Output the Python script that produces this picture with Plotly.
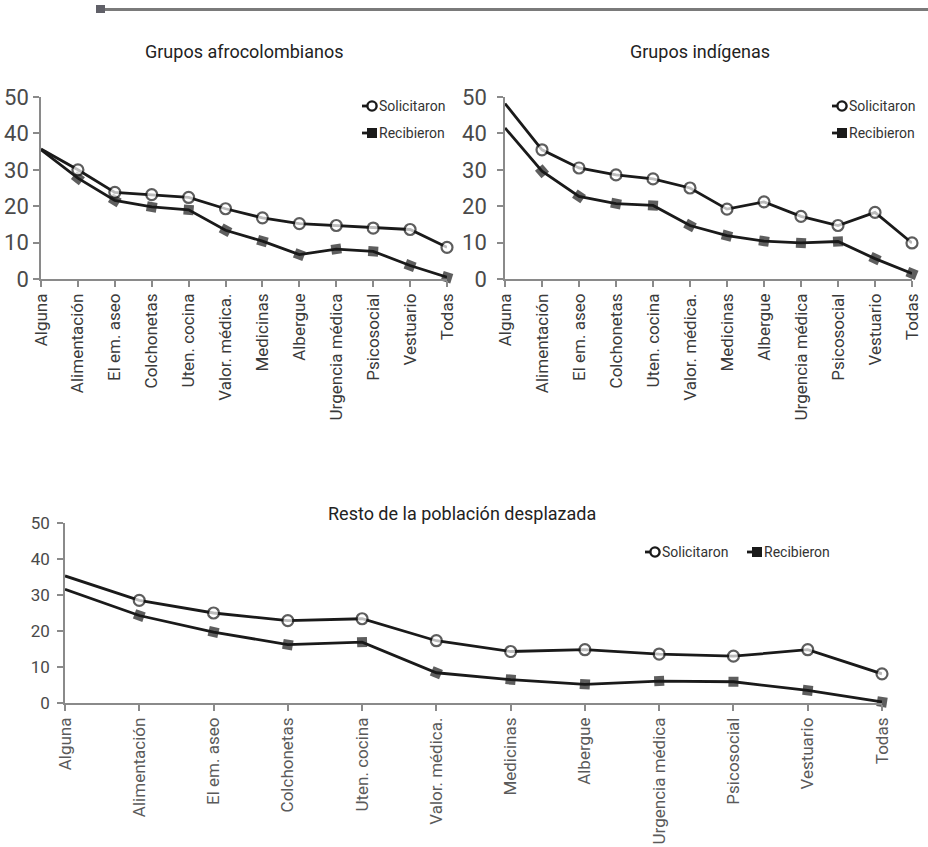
import math
import plotly.graph_objects as go

# Categorías de ayuda humanitaria
categorias = ["Alguna", "Alimentación", "El em. aseo", "Colchonetas", "Uten. cocina",
              "Valor. médica.", "Medicinas", "Albergue", "Urgencia médica",
              "Psicosocial", "Vestuario", "Todas"]

# Grupos afrocolombianos (%)
afro_solicitaron = [35.7, 30.0, 23.8, 23.2, 22.4, 19.3, 16.8, 15.2, 14.7, 14.0, 13.6, 8.7]
afro_recibieron = [35.5, 27.7, 21.6, 19.8, 19.0, 13.4, 10.4, 6.7, 8.2, 7.6, 3.7, 0.5]

# Grupos indígenas (%)
ind_solicitaron = [48.2, 35.5, 30.5, 28.6, 27.5, 25.0, 19.2, 21.2, 17.2, 14.7, 18.3, 9.9]
ind_recibieron = [41.5, 29.6, 22.7, 20.7, 20.2, 14.7, 11.9, 10.4, 9.9, 10.3, 5.6, 1.5]

# Resto de la población desplazada (%)
resto_solicitaron = [35.3, 28.5, 25.0, 22.9, 23.4, 17.3, 14.3, 14.8, 13.6, 13.0, 14.8, 8.1]
resto_recibieron = [31.6, 24.3, 19.7, 16.2, 16.9, 8.4, 6.5, 5.2, 6.1, 5.9, 3.5, 0.3]

y_ticks = [0, 10, 20, 30, 40, 50]

W, H = 928, 847
FONT = "Roboto, Liberation Sans, sans-serif"
AXIS_GRAY = "#8a8a8a"
INK = "#1a1a1a"


def px(x):
    return x / W


def py(y):
    return 1 - y / H


# Plot areas in pixels: (left, right, bottom, top)
TOP_LEFT = (41, 447, 279, 97)
TOP_RIGHT = (505, 912, 279, 97)
BOTTOM = (65, 882, 703, 523)


def square_angles(values, box):
    """Rotate each square marker to follow the incoming line segment."""
    left, right, bottom, top = box
    step_x = (right - left) / (len(values) - 1)
    unit_y = (bottom - top) / 50.0
    angles = [0]
    for a, b in zip(values[:-1], values[1:]):
        angles.append(math.degrees(math.atan2((a - b) * unit_y, step_x)))
    return angles


fig = go.Figure()

panels = [
    ("x", "y", afro_solicitaron, afro_recibieron, TOP_LEFT),
    ("x2", "y2", ind_solicitaron, ind_recibieron, TOP_RIGHT),
    ("x3", "y3", resto_solicitaron, resto_recibieron, BOTTOM),
]

for xa, ya, sol, rec, box in panels:
    # Primer punto ("Alguna") sin marcador
    sol_sizes = [0] + [11] * (len(sol) - 1)
    rec_sizes = [0] + [10] * (len(rec) - 1)
    fig.add_trace(go.Scatter(
        x=categorias, y=rec, xaxis=xa, yaxis=ya, mode="lines+markers",
        line=dict(color=INK, width=2.8),
        marker=dict(symbol="square", size=rec_sizes, color=INK,
                    angle=square_angles(rec, box), line=dict(width=0)),
        cliponaxis=False, showlegend=False, name="Recibieron"))
    fig.add_trace(go.Scatter(
        x=categorias, y=sol, xaxis=xa, yaxis=ya, mode="lines+markers",
        line=dict(color=INK, width=2.8),
        marker=dict(symbol="circle", size=sol_sizes, color="white",
                    line=dict(color=INK, width=2.2)),
        cliponaxis=False, showlegend=False, name="Solicitaron"))


def xaxis_cfg(box, anchor, color):
    return dict(domain=[px(box[0]), px(box[1])], anchor=anchor, type="category",
                categoryorder="array", categoryarray=categorias,
                range=[0, len(categorias) - 1], showline=True,
                linecolor=AXIS_GRAY, linewidth=1.5, ticks="outside",
                ticklen=6, tickwidth=1.5, tickcolor=AXIS_GRAY,
                tickangle=-90, showgrid=False, zeroline=False,
                automargin=False,
                tickfont=dict(family=FONT, size=17, color=color))


def yaxis_cfg(box, anchor, size, standoff):
    return dict(domain=[py(box[2]), py(box[3])], anchor=anchor, range=[0, 50],
                tickvals=y_ticks, showline=True, linecolor=AXIS_GRAY,
                linewidth=1.5, ticks="outside", ticklen=6, tickwidth=1.5,
                tickcolor=AXIS_GRAY, showgrid=False, zeroline=False,
                ticklabelstandoff=standoff, automargin=False,
                tickfont=dict(family=FONT, size=size, color="#4a4a4a"))


fig.update_layout(
    width=W, height=H, margin=dict(l=0, r=0, t=0, b=0),
    paper_bgcolor="white", plot_bgcolor="white", showlegend=False,
    xaxis=xaxis_cfg(TOP_LEFT, "y", "#3a3a3a"),
    yaxis=yaxis_cfg(TOP_LEFT, "x", 22, 0),
    xaxis2=xaxis_cfg(TOP_RIGHT, "y2", "#3a3a3a"),
    yaxis2=yaxis_cfg(TOP_RIGHT, "x2", 22, 6),
    xaxis3=xaxis_cfg(BOTTOM, "y3", "#5a5a5a"),
    yaxis3=yaxis_cfg(BOTTOM, "x3", 17, 4),
)

# Títulos de los paneles
titles = [("Grupos afrocolombianos", 244, 52),
          ("Grupos indígenas", 700, 52),
          ("Resto de la población desplazada", 462, 513)]
for text, cx, cy in titles:
    fig.add_annotation(text=text, x=px(cx), y=py(cy), xref="paper", yref="paper",
                       xanchor="center", yanchor="middle", showarrow=False,
                       font=dict(family=FONT, size=18, color="#222222"))

# Filete superior de la página
fig.add_shape(type="line", xref="paper", yref="paper",
              x0=px(100), x1=1, y0=py(9.5), y1=py(9.5),
              line=dict(color="#7a7a7a", width=3))
fig.add_shape(type="rect", xref="paper", yref="paper",
              x0=px(96), x1=px(105), y0=py(13), y1=py(5),
              line=dict(width=0), fillcolor="#606068")


# Leyendas dibujadas a mano
def legend_item(kind, x_stub, y, label):
    fig.add_shape(type="line", xref="paper", yref="paper",
                  x0=px(x_stub), x1=px(x_stub + 7), y0=py(y), y1=py(y),
                  line=dict(color=INK, width=2.8))
    cx = x_stub + 10
    if kind == "circle":
        fig.add_shape(type="circle", xref="paper", yref="paper",
                      xsizemode="pixel", ysizemode="pixel",
                      xanchor=px(cx), yanchor=py(y),
                      x0=-4.6, x1=4.6, y0=-4.6, y1=4.6,
                      line=dict(color=INK, width=2.4), fillcolor="white")
    else:
        fig.add_shape(type="rect", xref="paper", yref="paper",
                      xsizemode="pixel", ysizemode="pixel",
                      xanchor=px(cx), yanchor=py(y),
                      x0=-5, x1=5, y0=-5, y1=5,
                      line=dict(width=0), fillcolor=INK)
    fig.add_annotation(text=label, x=px(cx + 5), y=py(y), xref="paper",
                       yref="paper", xanchor="left", yanchor="middle",
                       showarrow=False,
                       font=dict(family=FONT, size=14, color="#333333"))


legend_item("circle", 362, 106, "Solicitaron")
legend_item("square", 362, 133, "Recibieron")
legend_item("circle", 832, 106, "Solicitaron")
legend_item("square", 832, 133, "Recibieron")
legend_item("circle", 645, 552, "Solicitaron")
legend_item("square", 747, 552, "Recibieron")

fig.write_html("out.html")
